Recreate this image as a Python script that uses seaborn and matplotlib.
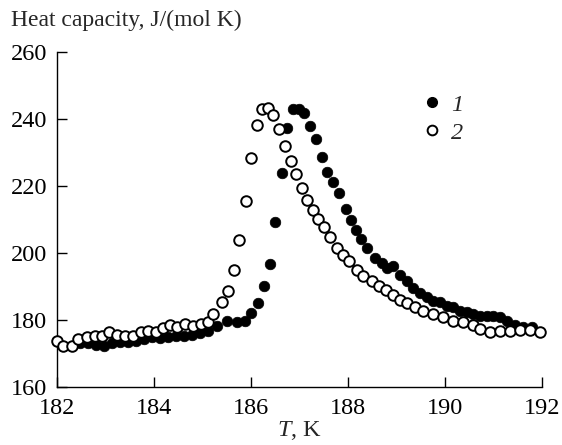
import pandas as pd
import seaborn as sns
import matplotlib
matplotlib.use('Agg')
import matplotlib.pyplot as plt
from matplotlib.lines import Line2D

# series 1 (filled circles)
t1 = [182.47, 182.64, 182.80, 182.97, 183.13, 183.30, 183.46, 183.63, 183.79, 183.96,
      184.12, 184.29, 184.45, 184.62, 184.78, 184.95, 185.11, 185.30, 185.51, 185.71,
      185.88, 186.00, 186.14, 186.27, 186.39, 186.49, 186.64, 186.74, 186.87, 186.99,
      187.09, 187.22, 187.34, 187.46, 187.57, 187.69, 187.81, 187.96, 188.06, 188.16,
      188.27, 188.39, 188.56, 188.70, 188.80, 188.93, 189.07, 189.22, 189.34, 189.48,
      189.63, 189.75, 189.90, 190.04, 190.16, 190.31, 190.45, 190.58, 190.72, 190.87,
      190.99, 191.13, 191.28, 191.44, 191.61, 191.79]
cp1 = [173.0, 173.0, 172.6, 172.2, 173.0, 173.4, 173.4, 173.6, 174.3, 174.9,
       174.6, 174.9, 175.2, 175.2, 175.5, 176.0, 176.7, 178.2, 179.8, 179.5,
       179.8, 182.2, 185.0, 190.2, 196.8, 209.2, 223.8, 237.2, 243.0, 243.0,
       241.8, 237.8, 233.9, 228.7, 224.1, 221.1, 217.8, 213.2, 209.8, 206.8,
       204.1, 201.6, 198.6, 197.1, 195.6, 196.2, 193.4, 191.6, 189.5, 188.0,
       187.0, 185.8, 185.5, 184.3, 184.0, 182.8, 182.5, 181.9, 181.3, 181.3,
       181.3, 181.0, 179.8, 178.5, 178.0, 177.8]

# series 2 (open circles)
t2 = [182.00, 182.12, 182.31, 182.43, 182.62, 182.78, 182.93, 183.07, 183.24, 183.40,
      183.57, 183.73, 183.88, 184.04, 184.19, 184.33, 184.47, 184.64, 184.80, 184.97,
      185.11, 185.22, 185.40, 185.53, 185.65, 185.75, 185.90, 186.00, 186.12, 186.23,
      186.35, 186.45, 186.58, 186.70, 186.82, 186.93, 187.05, 187.15, 187.28, 187.38,
      187.51, 187.63, 187.77, 187.90, 188.02, 188.19, 188.31, 188.49, 188.64, 188.78,
      188.93, 189.07, 189.22, 189.38, 189.55, 189.75, 189.96, 190.16, 190.37, 190.58,
      190.72, 190.93, 191.13, 191.34, 191.55, 191.75, 191.96]
cp2 = [173.7, 172.2, 172.2, 174.3, 174.9, 175.2, 175.2, 176.4, 175.5, 175.2,
       175.2, 176.4, 176.7, 176.4, 177.6, 178.5, 177.9, 178.8, 178.2, 178.8,
       179.5, 181.9, 185.5, 188.7, 195.0, 203.8, 215.6, 228.4, 238.1, 243.0,
       243.3, 241.2, 236.9, 232.0, 227.5, 223.5, 219.3, 215.9, 212.9, 210.2,
       207.7, 204.7, 201.6, 199.5, 197.7, 195.0, 193.1, 191.6, 190.1, 188.9,
       187.4, 186.1, 185.2, 184.0, 182.8, 181.9, 181.0, 179.8, 179.5, 178.5,
       177.3, 176.4, 176.7, 176.7, 177.0, 177.0, 176.4]

x_ticks = [182, 184, 186, 188, 190, 192]
y_ticks = [160, 180, 200, 220, 240, 260]

sns.set_style('ticks')
plt.rcParams['font.family'] = ['Liberation Serif', 'DejaVu Serif']
plt.rcParams['mathtext.fontset'] = 'custom'
plt.rcParams['mathtext.rm'] = 'Liberation Serif'
plt.rcParams['mathtext.it'] = 'Liberation Serif:italic'

df1 = pd.DataFrame({'T': t1, 'Cp': cp1})
df2 = pd.DataFrame({'T': t2, 'Cp': cp2})

fig = plt.figure(figsize=(5.62, 4.45), dpi=100)
ax = fig.add_axes([0.1014, 0.1303, 0.863, 0.7528])

sns.scatterplot(data=df1, x='T', y='Cp', ax=ax, s=58, color='black',
                edgecolor='black', linewidth=0.5, zorder=2, clip_on=False)
sns.scatterplot(data=df2, x='T', y='Cp', ax=ax, s=58, facecolor='white',
                edgecolor='black', linewidth=1.4, zorder=3, clip_on=False)

ax.set_xlim(182, 192)
ax.set_ylim(160, 260)
ax.set_xticks(x_ticks)
ax.set_yticks(y_ticks)
ax.tick_params(direction='in', length=7, width=1, labelsize=17.5, colors='black')
ax.tick_params(axis='y', pad=7)
ax.tick_params(axis='x', pad=8)
for side in ['top', 'right']:
    ax.spines[side].set_visible(False)
for side in ['left', 'bottom']:
    ax.spines[side].set_linewidth(1)
    ax.spines[side].set_color('black')

ax.set_xlabel('$T$, K', fontsize=17.5, labelpad=0)
ax.set_ylabel('')
fig.text(0.02, 0.955, 'Heat capacity, J/(mol K)', fontsize=17, ha='left', va='center')

handles = [
    Line2D([], [], marker='o', linestyle='', markersize=7, markerfacecolor='black',
           markeredgecolor='black', label='1'),
    Line2D([], [], marker='o', linestyle='', markersize=7, markerfacecolor='white',
           markeredgecolor='black', markeredgewidth=1.4, label='2'),
]
ax.legend(handles=handles, loc='upper left', bbox_to_anchor=(0.728, 0.905), frameon=False,
          prop={'family': 'Liberation Serif', 'style': 'italic', 'size': 17.5},
          handletextpad=0.3, labelspacing=0.25, handlelength=1.0, borderaxespad=0)

fig.savefig('out.png', dpi=100)
